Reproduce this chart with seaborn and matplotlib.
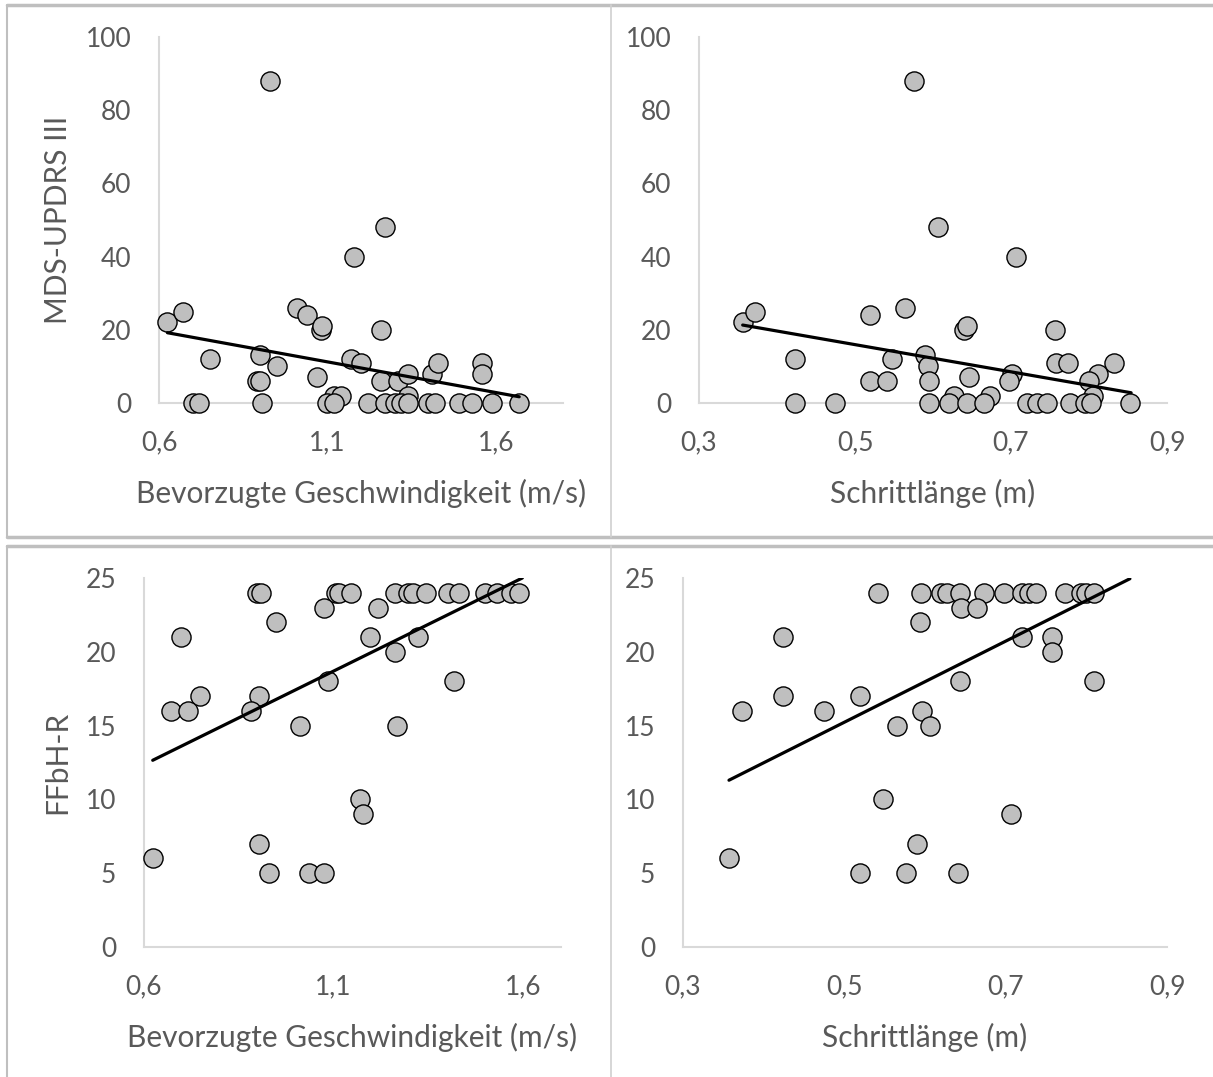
import numpy as np
import pandas as pd
import matplotlib
matplotlib.use("Agg")
import matplotlib.pyplot as plt
from matplotlib.ticker import FuncFormatter, FixedLocator
from matplotlib.lines import Line2D
import seaborn as sns

# ---- data ----
# top left: preferred speed vs MDS-UPDRS III
speed_mds = [0.93, 1.27, 1.18, 0.625, 0.67, 1.01, 1.04, 1.08, 1.085, 1.26, 0.75, 0.90, 0.95, 0.89, 0.90,
             1.07, 1.17, 1.20, 1.26, 1.31, 1.34, 1.41, 1.43, 1.56, 1.56, 1.12, 1.14, 1.34, 0.70, 0.72,
             0.905, 1.10, 1.12, 1.22, 1.27, 1.30, 1.32, 1.34, 1.40, 1.42, 1.49, 1.53, 1.59, 1.67]
mds_speed = [88, 48, 40, 22, 25, 26, 24, 20, 21, 20, 12, 13, 10, 6, 6,
             7, 12, 11, 6, 6, 8, 8, 11, 11, 8, 2, 2, 2, 0, 0,
             0, 0, 0, 0, 0, 0, 0, 0, 0, 0, 0, 0, 0, 0]
trend_speed_mds_x = [0.625, 1.67]
trend_speed_mds_y = [19.2, 1.7]

# top right: step length vs MDS-UPDRS III
step_mds = [0.576, 0.606, 0.706, 0.356, 0.372, 0.519, 0.564, 0.640, 0.643, 0.757, 0.423, 0.547, 0.590, 0.594,
            0.519, 0.541, 0.595, 0.646, 0.701, 0.698, 0.758, 0.773, 0.832, 0.811, 0.800, 0.627, 0.673, 0.805,
            0.423, 0.474, 0.595, 0.620, 0.644, 0.665, 0.720, 0.733, 0.746, 0.775, 0.795, 0.802, 0.853]
mds_step = [88, 48, 40, 22, 25, 24, 26, 20, 21, 20, 12, 12, 13, 10,
            6, 6, 6, 7, 8, 6, 11, 11, 11, 8, 6, 2, 2, 2,
            0, 0, 0, 0, 0, 0, 0, 0, 0, 0, 0, 0, 0]
trend_step_mds_x = [0.356, 0.854]
trend_step_mds_y = [21.3, 2.8]

# bottom left: preferred speed vs FFbH-R
speed_ffbh = [0.899, 0.908, 1.107, 1.114, 1.146, 1.262, 1.296, 1.309, 1.344, 1.401, 1.432, 1.50, 1.532, 1.568, 1.589,
              1.074, 1.217, 0.947, 0.697, 1.197, 1.323, 1.262, 1.085, 1.417, 0.747, 0.904, 0.671, 0.715, 0.883,
              1.011, 1.267, 1.17, 1.179, 0.904, 0.623, 0.93, 1.034, 1.075]
ffbh_speed = [24, 24, 24, 24, 24, 24, 24, 24, 24, 24, 24, 24, 24, 24, 24,
              23, 23, 22, 21, 21, 21, 20, 18, 18, 17, 17, 16, 16, 16,
              15, 15, 10, 9, 7, 6, 5, 5, 5]
trend_speed_ffbh_x = [0.623, 1.598]
trend_speed_ffbh_y = [12.65, 25.0]

# bottom right: step length vs FFbH-R
step_ffbh = [0.542, 0.595, 0.62, 0.627, 0.644, 0.673, 0.698, 0.72, 0.729, 0.738, 0.774, 0.794, 0.80, 0.809,
             0.645, 0.664, 0.594, 0.424, 0.72, 0.757, 0.757, 0.644, 0.81, 0.424, 0.519, 0.373, 0.475, 0.596,
             0.565, 0.606, 0.548, 0.706, 0.59, 0.357, 0.519, 0.576, 0.641]
ffbh_step = [24, 24, 24, 24, 24, 24, 24, 24, 24, 24, 24, 24, 24, 24,
             23, 23, 22, 21, 21, 21, 20, 18, 18, 17, 17, 16, 16, 16,
             15, 15, 10, 9, 7, 6, 5, 5, 5]
trend_step_ffbh_x = [0.357, 0.854]
trend_step_ffbh_y = [11.3, 24.95]

speed_label = "Bevorzugte Geschwindigkeit (m/s)"
step_label = "Schrittlänge (m)"
mds_label = "MDS-UPDRS III"
ffbh_label = "FFbH-R"

speed_ticks = [0.6, 1.1, 1.6]
step_ticks = [0.3, 0.5, 0.7, 0.9]
mds_ticks = [0, 20, 40, 60, 80, 100]
ffbh_ticks = [0, 5, 10, 15, 20, 25]

sns.set_theme(style="white")
plt.rcParams['font.family'] = ['Lato', 'DejaVu Sans']

TEXT = "#595959"
AXIS = "#D9D9D9"
FILL = "#BFBFBF"

fig = plt.figure(figsize=(12.13, 10.77), dpi=100)

W, H = 1213, 1077


def make_ax(x0, x1, y0, y1):
    return fig.add_axes([x0 / W, 1 - y1 / H, (x1 - x0) / W, (y1 - y0) / H])


panels = [
    # axes box (px), x, y, trend x, trend y, xlim, ylim, xticks, yticks, xlabel, ylabel
    ((159, 563, 37, 403), speed_mds, mds_speed, trend_speed_mds_x, trend_speed_mds_y,
     (0.6, 1.8), (0, 100), speed_ticks, mds_ticks, speed_label, mds_label),
    ((699, 1167, 37, 403), step_mds, mds_step, trend_step_mds_x, trend_step_mds_y,
     (0.3, 0.9), (0, 100), step_ticks, mds_ticks, step_label, ""),
    ((144, 561, 578, 947), speed_ffbh, ffbh_speed, trend_speed_ffbh_x, trend_speed_ffbh_y,
     (0.6, 1.7), (0, 25), speed_ticks, ffbh_ticks, speed_label, ffbh_label),
    ((683, 1167, 578, 947), step_ffbh, ffbh_step, trend_step_ffbh_x, trend_step_ffbh_y,
     (0.3, 0.9), (0, 25), step_ticks, ffbh_ticks, step_label, ""),
]

comma = FuncFormatter(lambda v, p: f"{v:.1f}".replace(".", ","))

for box, xs, ys, tx, ty, xlim, ylim, xt, yt, xl, yl in panels:
    ax = make_ax(*box)
    df = pd.DataFrame({"x": xs, "y": ys})
    sns.scatterplot(data=df, x="x", y="y", s=190, color=FILL, edgecolor="black",
                    linewidth=1.0, clip_on=False, zorder=3, ax=ax)
    sns.lineplot(x=tx, y=ty, color="black", linewidth=2.3, zorder=4, ax=ax)
    ax.set_xlim(*xlim)
    ax.set_ylim(*ylim)
    ax.xaxis.set_major_locator(FixedLocator(xt))
    ax.yaxis.set_major_locator(FixedLocator(yt))
    ax.xaxis.set_major_formatter(comma)
    ax.tick_params(axis="both", length=0, labelsize=19, labelcolor=TEXT)
    ax.tick_params(axis="x", pad=20)
    ax.tick_params(axis="y", pad=20)
    ax.set_xlabel(xl, fontsize=21.5, color=TEXT, labelpad=17)
    ax.set_ylabel(yl, fontsize=21.5, color=TEXT, labelpad=10)
    for s in ["top", "right"]:
        ax.spines[s].set_visible(False)
    for s in ["left", "bottom"]:
        ax.spines[s].set_color(AXIS)
        ax.spines[s].set_linewidth(1.5)
        ax.spines[s].set_zorder(1)
    ax.grid(False)

# chart frames
frame = "#BFBFBF"
for (y_top, y_bot) in [(5, 537), (546, 1090)]:
    fig.add_artist(Line2D([7 / W, 1.01], [1 - y_top / H] * 2, color=frame, lw=2.5, transform=fig.transFigure))
    fig.add_artist(Line2D([7 / W, 1.01], [1 - y_bot / H] * 2, color=frame, lw=2.5, transform=fig.transFigure))
    fig.add_artist(Line2D([7 / W] * 2, [1 - y_top / H, 1 - y_bot / H], color=frame, lw=1.5, transform=fig.transFigure))
    fig.add_artist(Line2D([611 / W] * 2, [1 - y_top / H, 1 - y_bot / H], color="#D0D0D0", lw=1.2, transform=fig.transFigure))

fig.savefig("out.png", dpi=100)
